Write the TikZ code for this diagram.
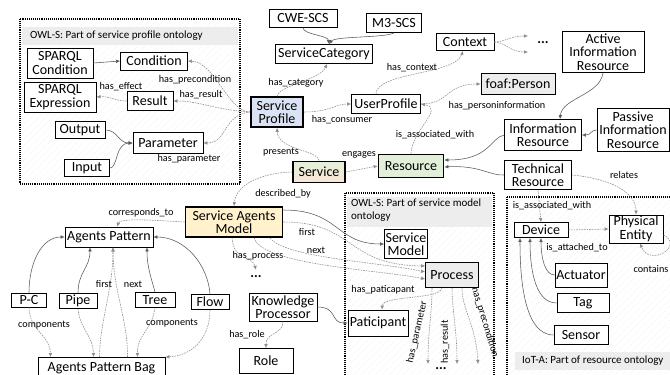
\documentclass[tikz,border=0pt]{standalone}
\usepackage{fontspec}
\setmainfont{Carlito}
\usetikzlibrary{arrows.meta,patterns.meta}
\definecolor{spblue}{HTML}{DAE3F3}
\definecolor{rsgreen}{HTML}{E2F0D9}
\definecolor{samyel}{HTML}{FFF2CC}
\definecolor{peach}{HTML}{FBE5D6}
\definecolor{lgray}{HTML}{EDEDED}
\newcommand\bigf{\fontsize{14}{13.5}\selectfont}
\newcommand\smf{\fontsize{10.2}{11}\selectfont}
\newcommand\hdf{\fontsize{11}{12.5}\selectfont}
\tikzset{
  bx/.style={draw=black, line width=0.8pt, fill=white, inner sep=1pt, align=center, font=\bigf},
  tbx/.style={bx, line width=1.7pt},
  arr/.style={-{Latex[length=4pt,width=3.6pt]}},
  sol/.style={arr, draw=black!65, line width=0.55pt},
  dsh/.style={arr, draw=black!45, line width=0.55pt, dash pattern=on 1.6pt off 1pt},
  lbl/.style={font=\smf, inner sep=0pt},
  frm/.style={draw=black, line width=1.1pt, dash pattern=on 0.9pt off 1pt, pattern={Lines[angle=45,distance=5pt,line width=0.3pt]}, pattern color=black!7},
  hdr/.style={fill=black!7, draw=none},
  dots/.style={font=\bigf\bfseries, inner sep=0pt}
}
\begin{document}
\begin{tikzpicture}[x=1pt,y=-1pt]
\useasboundingbox (0,0) rectangle (670,375);
\fill[white] (0,0) rectangle (670,375);
% frames
\path[frm] (20,19) rectangle (240,184);
\fill[hdr] (22,27) rectangle (238,45);
\node[font=\hdf, anchor=west, inner sep=0pt] (h1) at (30,36) {OWL-S: Part of service profile ontology};
\path[frm] (345,193) rectangle (494,385);
\fill[hdr] (347,197) rectangle (492,227);
\node[font=\hdf, anchor=north west, align=left, inner sep=0pt] (h2) at (351,199) {OWL-S: Part of service model\\ontology};
\path[frm] (507,197) rectangle (690,385);
\fill[hdr] (515,352) rectangle (672,370);
\node[font=\hdf, anchor=west, inner sep=0pt] (h3) at (522,361) {IoT-A: Part of resource ontology};

% profile nodes
\node[bx, minimum width=66pt, minimum height=30pt] (spc) at (60,63) {SPARQL\\Condition};
\node[bx, minimum width=67pt, minimum height=18pt] (cond) at (154,61) {Condition};
\node[bx, minimum width=72pt, minimum height=30pt] (spe) at (60,97) {SPARQL\\Expression};
\node[bx, minimum width=46pt, minimum height=19pt] (res) at (150,101) {Result};
\node[bx, minimum width=50pt, minimum height=17pt] (out) at (80,130) {Output};
\node[bx, minimum width=70pt, minimum height=21pt] (par) at (168,143) {Parameter};
\node[bx, minimum width=45pt, minimum height=17pt] (inp) at (87,168) {Input};

% top nodes
\node[bx, minimum width=68pt, minimum height=18pt] (cwe) at (303,18) {CWE-SCS};
\node[bx, minimum width=55pt, minimum height=19pt] (m3) at (394,23) {M3-SCS};
\node[bx, minimum width=97pt, minimum height=19pt] (sc) at (324,54) {ServiceCategory};
\node[bx, minimum width=58pt, minimum height=17pt] (ctx) at (465,42) {Context};
\node[dots] (d1) at (543,43) {...};
\coordinate (c1) at (528,36);
\coordinate (c2) at (528,52);
\node[bx, minimum width=82pt, minimum height=41pt] (air) at (603,52) {Active\\Information\\Resource};
\node[bx, fill=lgray, minimum width=74pt, minimum height=21pt] (foaf) at (518,84) {foaf:Person};
\node[tbx, fill=spblue, minimum width=52pt, minimum height=30pt] (sp) at (277,112) {Service\\Profile};
\node[bx, minimum width=69pt, minimum height=19pt] (up) at (386,104) {UserProfile};
\node[bx, minimum width=77pt, minimum height=31pt] (ir) at (543,135) {Information\\Resource};
\node[bx, minimum width=72pt, minimum height=43pt] (pir) at (633,130) {Passive\\Information\\Resource};
\node[tbx, top color=rsgreen, bottom color=peach, minimum width=52pt, minimum height=21pt] (svc) at (319,172) {Service};
\node[tbx, fill=rsgreen, minimum width=65pt, minimum height=23pt] (rsc) at (411,166) {Resource};
\node[bx, minimum width=67pt, minimum height=29pt] (tr) at (538,175) {Technical\\Resource};

% agents
\node[tbx, fill=samyel, minimum width=97pt, minimum height=30pt] (sam) at (234,222) {Service Agents\\Model};
\node[bx, minimum width=88pt, minimum height=20pt] (ap) at (109,237) {Agents Pattern};
\node[bx, minimum width=35pt, minimum height=14pt] (pc) at (29,300) {P-C};
\node[bx, minimum width=38pt, minimum height=15pt] (pipe) at (78,301) {Pipe};
\node[bx, minimum width=40pt, minimum height=15pt] (tree) at (155,300) {Tree};
\node[bx, minimum width=38pt, minimum height=15pt] (flow) at (210,302) {Flow};
\node[bx, minimum width=127pt, minimum height=22pt, anchor=north] (bag) at (101.5,357) {Agents Pattern Bag};
\node[dots] (d2) at (256,277) {...};
\node[bx, minimum width=68pt, minimum height=28pt] (kp) at (283,307) {Knowledge\\Processor};
\node[bx, minimum width=54pt, minimum height=25pt] (role) at (266,361) {Role};

% service model
\node[bx, minimum width=42pt, minimum height=29pt] (smod) at (406,244) {Service\\Model};
\node[bx, fill=lgray, minimum width=53pt, minimum height=25pt] (proc) at (452,275) {Process};
\node[bx, minimum width=60pt, minimum height=26pt] (pat) at (378,323) {Paticipant};
\node[dots] (d3) at (441,369) {...};
\coordinate (e1) at (428,364);
\coordinate (e2) at (457,364);
\coordinate (e3) at (478,364);

% IoT
\node[bx, minimum width=54pt, minimum height=15pt] (dev) at (541,230) {Device};
\node[bx, minimum width=54pt, minimum height=28pt] (pe) at (636,229) {Physical\\Entity};
\node[bx, minimum width=52pt, minimum height=24pt] (act) at (581,275) {Actuator};
\node[bx, minimum width=52pt, minimum height=19pt] (tag) at (583,303) {Tag};
\node[bx, minimum width=54pt, minimum height=19pt] (sen) at (581,335) {Sensor};

% ---- edges: profile
\draw[sol] (spc.east) -- (cond.west);
\draw[dsh] (sp.west) .. controls (228,112) and (215,62) .. (cond.east);
\draw[dsh] (sp.west) .. controls (215,110) and (200,101) .. (res.east);
\draw[dsh] (sp.west) .. controls (222,115) and (228,143) .. (par.east);
\draw[dsh] (res.west) .. controls (115,101) and (110,96) .. (spe.east);
\draw[sol] (out.east) .. controls (118,130) and (118,143) .. (par.west);
\draw[sol] (inp.east) .. controls (118,168) and (115,143) .. (par.west);
\node[lbl] (l1) at (195,80) {has\_precondition};
\node[lbl] (l2) at (201,95) {has\_result};
\node[lbl] (l3) at (121,87) {has\_effect};
\node[lbl] (l4) at (189,159) {has\_parameter};

% top
\draw[sol] (cwe.south) .. controls (303,35) and (328,35) .. ([xshift=5pt]sc.north);
\draw[sol] (m3.south) .. controls (385,38) and (335,36) .. ([xshift=5pt]sc.north);
\draw[dsh] (sp.north) .. controls (280,85) and (320,80) .. ([xshift=3pt]sc.south);
\node[lbl] (l5) at (296,83) {has\_category};
\draw[dsh] (sp.east) .. controls (330,112) and (335,104) .. (up.west);
\node[lbl] (l6) at (342,120) {has\_consumer};
\draw[dsh] ([xshift=-10pt]up.north) .. controls (376,72) and (455,75) .. ([xshift=-2pt]ctx.south);
\node[lbl] (l7) at (412,68) {has\_context};
\draw[dsh] (ctx.east) .. controls (505,42) and (510,36) .. (c1);
\draw[dsh] (ctx.east) .. controls (505,42) and (510,52) .. (c2);
\draw[dsh] (up.east) .. controls (450,104) and (445,84) .. (foaf.west);
\node[lbl] (l8) at (497,106) {has\_personinformation};
\draw[dsh] (rsc.north) .. controls (412,130) and (445,108) .. (up.east);
\node[lbl] (l9) at (435,135) {is\_associated\_with};
\draw[dsh] (svc.north) .. controls (318,150) and (278,150) .. (sp.south);
\node[lbl] (l10) at (281,152) {presents};
\draw[dsh] (svc.east) -- (rsc.west);
\node[lbl] (l11) at (359,155) {engages};
\draw[dsh] (svc.west) .. controls (260,173) and (236,185) .. (sam.north);
\node[lbl] (l12) at (283,194) {described\_by};
\draw[sol] (ir.west) .. controls (490,138) and (490,160) .. ([yshift=6pt]rsc.east);
\draw[sol] (tr.west) .. controls (490,176) and (480,165) .. ([yshift=-1pt]rsc.east);
\draw[sol] (air.south) .. controls (600,95) and (562,98) .. ([xshift=17pt]ir.north);
\draw[sol] (pir.west) .. controls (590,130) and (592,135) .. (ir.east);
\draw[dsh] (tr.east) .. controls (605,178) and (636,190) .. (pe.north);
\node[lbl] (l13) at (624,175) {relates};
\draw[dsh] (tr.south) -- (dev.north);
\node[lbl] (l14) at (552,206) {is\_associated\_with};

% IoT
\draw[dsh] (dev.east) -- (pe.west);
\draw[dsh] ([yshift=-6pt]pe.east) .. controls (685,245) and (650,268) .. ([xshift=4pt]pe.south);
\node[lbl] (l15) at (651,269) {contains};
\draw[sol] (act.west) .. controls (545,275) and (541,258) .. (dev.south);
\draw[sol] (tag.west) .. controls (533,303) and (530,262) .. ([xshift=-11pt]dev.south);
\draw[sol] (sen.west) .. controls (522,335) and (520,270) .. ([xshift=-21pt]dev.south);
\node[lbl] (l16) at (577,248) {is\_attached\_to};

% agents
\draw[dsh] (sam.west) .. controls (150,220) and (120,218) .. ([xshift=8pt]ap.north);
\node[lbl] (l17) at (141,213) {corresponds\_to};
\draw[sol] (pc.north) .. controls (29,262) and (42,237) .. (ap.west);
\draw[sol] (pipe.north) .. controls (78,272) and (90,268) .. ([xshift=-19pt]ap.south);
\draw[dsh] ([xshift=-2pt]bag.north) .. controls (100,320) and (113,290) .. ([xshift=4pt]ap.south);
\draw[dsh] ([xshift=26pt]bag.north) .. controls (128,320) and (113,290) .. ([xshift=4pt]ap.south);
\node[lbl] (l18) at (104,284) {first};
\node[lbl] (l19) at (133,284) {next};
\draw[sol] (tree.north) .. controls (152,280) and (147,268) .. ([xshift=38pt]ap.south);
\draw[sol] (flow.north) .. controls (208,265) and (185,237) .. (ap.east);
\draw[dsh] (pc.south) .. controls (29,330) and (50,335) .. ([xshift=-51pt]bag.north);
\draw[dsh] (pipe.south) .. controls (80,330) and (93,335) .. ([xshift=-8pt]bag.north);
\draw[dsh] (tree.south) .. controls (152,330) and (137,335) .. ([xshift=36pt]bag.north);
\draw[dsh] (flow.south) .. controls (210,340) and (190,356) .. (bag.north east);
\node[lbl] (l20) at (44,325) {components};
\node[lbl] (l21) at (172,323) {components};

% service agents model edges
\draw[dsh] ([xshift=-2pt]sam.south) .. controls (234,262) and (252,255) .. ([yshift=6pt]d2.north);
\node[lbl] (l22) at (258,256) {has\_process};
\draw[sol] ([yshift=12pt]sam.east) .. controls (340,210) and (335,244) .. (smod.west);
\draw[dsh] (sam.east) .. controls (355,222) and (345,265) .. ([yshift=9pt]proc.west);
\draw[dsh] ([xshift=36pt]sam.south) .. controls (285,258) and (380,262) .. ([yshift=3pt]proc.west);
\draw[dsh] ([xshift=20pt]sam.south) .. controls (262,265) and (380,270) .. ([yshift=-4pt]proc.west);
\node[lbl] (l23) at (307,232) {first};
\node[lbl] (l24) at (316,250) {next};
\draw[sol] (kp.east) .. controls (338,307) and (330,323) .. (pat.west);
\draw[dsh] (kp.south) .. controls (283,335) and (266,332) .. (role.north);
\node[lbl] (l25) at (247,335) {has\_role};
\draw[dsh] ([xshift=-10pt]proc.south) .. controls (440,300) and (383,295) .. ([xshift=4pt]pat.north);
\node[lbl] (l26) at (383,290) {has\_paticapant};
\draw[dsh] ([xshift=-20pt]proc.south) .. controls (432,315) and (428,330) .. (e1);
\draw[dsh] ([xshift=0pt]proc.south) .. controls (452,310) and (457,330) .. (e2);
\draw[dsh] ([xshift=10pt]proc.south) .. controls (462,310) and (476,325) .. (e3);
\node[lbl] (l27) [rotate=77] at (417,332) {has\_parameter};
\node[lbl] (l28) [rotate=90] at (445,342) {has\_result};
\node[lbl] (l29) [rotate=-73] at (485,322) {has\_precondition};
\end{tikzpicture}
\end{document}
